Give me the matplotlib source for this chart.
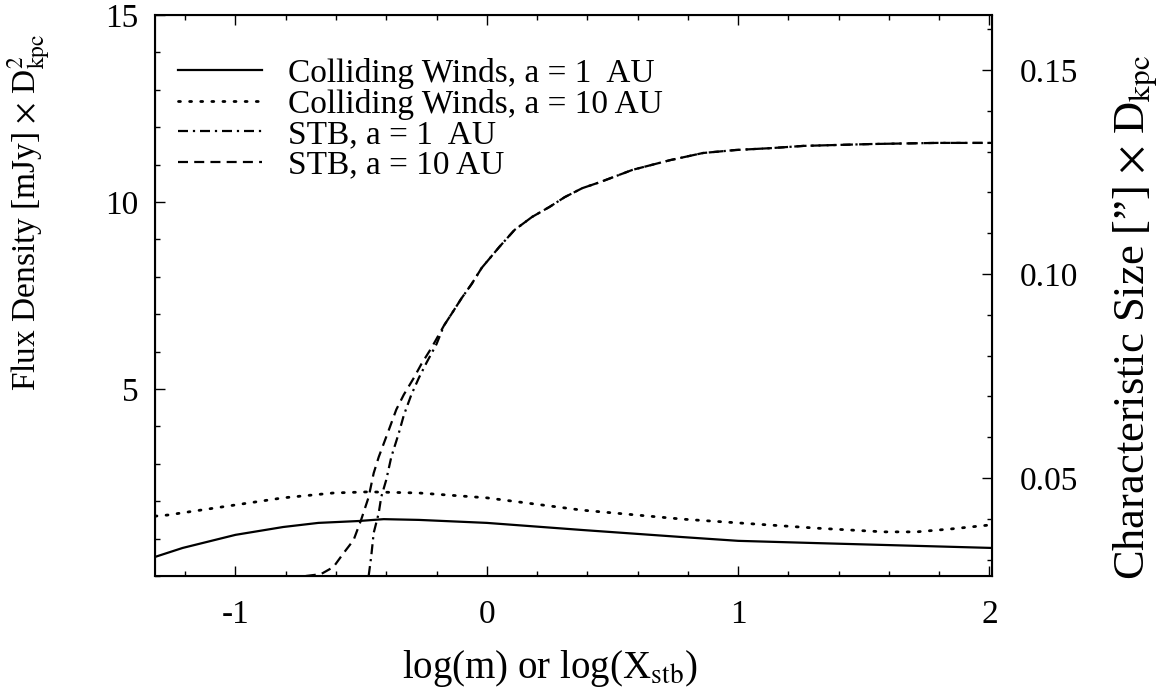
import numpy as np
import matplotlib
matplotlib.use("Agg")
import matplotlib.pyplot as plt
from matplotlib.ticker import MultipleLocator, FixedLocator

plt.rcParams['font.family'] = ['Liberation Serif', 'DejaVu Serif']
plt.rcParams['mathtext.fontset'] = 'stix'

# colliding winds, a = 1 AU
cw1_x = [-1.32, -1.21, -1.0, -0.81, -0.67, -0.51, -0.41, -0.27, 0.0, 0.38, 0.78, 1.0, 1.31, 1.58, 1.85, 2.01]
cw1_y = [0.51, 0.75, 1.10, 1.31, 1.42, 1.47, 1.52, 1.50, 1.42, 1.23, 1.04, 0.94, 0.88, 0.83, 0.78, 0.75]

# colliding winds, a = 10 AU
cw10_x = [-1.32, -1.27, -1.0, -0.81, -0.61, -0.47, -0.27, 0.0, 0.38, 0.78, 1.0, 1.31, 1.58, 1.71, 1.85, 2.01]
cw10_y = [1.60, 1.63, 1.90, 2.09, 2.22, 2.25, 2.22, 2.09, 1.76, 1.52, 1.42, 1.28, 1.18, 1.18, 1.26, 1.37]

# STB, a = 10 AU
stb10_x = [-0.72, -0.66, -0.61, -0.57, -0.53, -0.50, -0.47, -0.45, -0.43, -0.39, -0.36, -0.33,
           -0.29, -0.26, -0.22, -0.17, -0.14, -0.10, -0.06, -0.02, 0.05, 0.11, 0.18, 0.25, 0.31, 0.38,
           0.45, 0.58, 0.73, 0.86, 0.99, 1.13, 1.26, 1.53, 1.79, 2.01]
stb10_y = [0.0, 0.05, 0.24, 0.61, 0.96, 1.5, 2.11, 2.75, 3.18, 3.9, 4.45, 4.85,
           5.3, 5.67, 6.10, 6.7, 7.01, 7.43, 7.81, 8.24, 8.80, 9.25, 9.60, 9.87, 10.13, 10.37,
           10.53, 10.86, 11.12, 11.31, 11.39, 11.44, 11.50, 11.55, 11.58, 11.58]

# STB, a = 1 AU
stb1_x = [-0.47, -0.46, -0.45, -0.43, -0.42, -0.40, -0.38, -0.35, -0.33, -0.30, -0.27, -0.24,
          -0.20, -0.17, -0.14, -0.10, -0.06, -0.02, 0.05, 0.11, 0.18, 0.25, 0.31, 0.38,
          0.45, 0.58, 0.73, 0.86, 0.99, 1.13, 1.26, 1.53, 1.79, 2.01]
stb1_y = [0.0, 0.51, 1.15, 1.68, 2.11, 2.57, 3.18, 3.82, 4.3, 4.85, 5.3, 5.7,
          6.2, 6.7, 7.01, 7.43, 7.81, 8.24, 8.80, 9.25, 9.60, 9.87, 10.13, 10.37,
          10.53, 10.86, 11.12, 11.31, 11.39, 11.44, 11.50, 11.55, 11.58, 11.58]

labels = ['Colliding Winds, a = 1  AU', 'Colliding Winds, a = 10 AU',
          'STB, a = 1  AU', 'STB, a = 10 AU']
xtick_vals = [-1, 0, 1, 2]
xtick_labels = ['-1', '0', '1', '2']
ytick_vals = [5, 10, 15]
y2tick_vals = [0.05, 0.10, 0.15]
y2tick_labels = ['0.05', '0.10', '0.15']

fig = plt.figure(figsize=(11.61, 6.87), dpi=100)
ax = fig.add_axes([155/1161, 1-576/687, 837/1161, 561/687])

lw = 1.6
ax.plot(cw1_x, cw1_y, color='black', lw=lw, label=labels[0])
ax.plot(cw10_x, cw10_y, color='black', lw=2.0, linestyle=(0, (0.7, 3.3)),
        dash_capstyle='round', label=labels[1])
ax.plot(stb1_x, stb1_y, color='black', lw=lw, linestyle=(0, (4.5, 2.2, 1.0, 2.2)), label=labels[2])
ax.plot(stb10_x, stb10_y, color='black', lw=lw, linestyle=(0, (4.5, 2.8)), label=labels[3])

ax.set_xlim(-1.32, 2.01)
ax.set_ylim(0, 15)
ax.xaxis.set_major_locator(FixedLocator(xtick_vals))
ax.set_xticklabels(xtick_labels)
ax.xaxis.set_minor_locator(MultipleLocator(0.2))
ax.yaxis.set_major_locator(FixedLocator(ytick_vals))
ax.yaxis.set_minor_locator(MultipleLocator(1))
ax.tick_params(which='both', direction='in', top=True, right=False, width=1.0)
ax.tick_params(which='major', length=7, labelsize=24)
ax.tick_params(which='minor', length=3.5)
ax.tick_params(axis='x', pad=17)
ax.tick_params(axis='y', pad=12)
for s in ax.spines.values():
    s.set_linewidth(1.5)

ax2 = ax.twinx()
ax2.set_ylim(0.026, 0.1635)
ax2.yaxis.set_major_locator(FixedLocator(y2tick_vals))
ax2.yaxis.set_minor_locator(MultipleLocator(0.01))
ax2.set_yticklabels(y2tick_labels)
ax2.tick_params(which='both', direction='in', width=1.0)
ax2.tick_params(which='major', length=7, labelsize=24, pad=20)
ax2.tick_params(which='minor', length=3.5)

ax.set_xlabel(r'log(m) or log(X$_{\rm stb}$)', fontsize=28)
ax.xaxis.set_label_coords(0.472, -0.128)
ax.set_ylabel(r'Flux Density [mJy] $\times$ D$^{2}_{\rm kpc}$', fontsize=24)
ax.yaxis.set_label_coords(-0.123, 0.649)
ax2.set_ylabel('Characteristic Size [\u201d] $\\times$ D$_{\\rm kpc}$', fontsize=32)
ax2.yaxis.set_label_coords(1.143, 0.46)

leg = ax.legend(loc='upper left', bbox_to_anchor=(23/837, 0.924), frameon=False,
                fontsize=24, handlelength=2.52, handletextpad=0.78, labelspacing=0.0,
                borderpad=0, borderaxespad=0)

fig.savefig('out.png', dpi=100)
